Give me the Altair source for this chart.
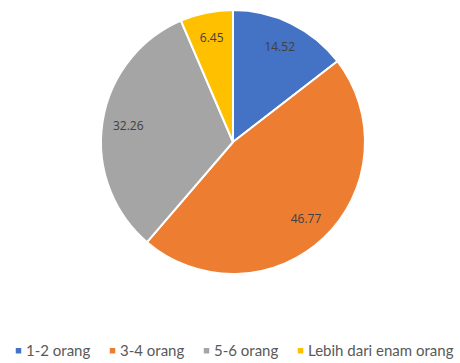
import altair as alt
import pandas as pd

categories = ["1-2 orang", "3-4 orang", "5-6 orang", "Lebih dari enam orang"]
values = [14.52, 46.77, 32.26, 6.45]
colors = ["#4472C4", "#ED7D31", "#A5A5A5", "#FFC000"]

df = pd.DataFrame({
    "kategori": categories,
    "nilai": values,
    "urut": list(range(len(categories))),
    "label": [f"{v:.2f}" for v in values],
})

cx, cy, R = 233, 142, 132

base = alt.Chart(df).encode(
    theta=alt.Theta("nilai:Q", stack=True),
    order=alt.Order("urut:Q", sort="ascending"),
    x=alt.value(cx),
    y=alt.value(cy),
)

arcs = base.mark_arc(outerRadius=R, stroke="white", strokeWidth=2).encode(
    color=alt.Color(
        "kategori:N",
        scale=alt.Scale(domain=categories, range=colors),
        sort=categories,
        legend=alt.Legend(
            title=None,
            orient="none",
            legendX=11,
            legendY=343,
            padding=0,
            direction="horizontal",
            symbolType="square",
            symbolSize=30,
            symbolStrokeWidth=0,
            labelFontSize=15,
            labelFont="Lato",
            labelColor="#595959",
            columnPadding=14,
            symbolOffset=0,
            labelOffset=0,
            labelLimit=300,
        ),
    )
)

texts = base.mark_text(radius=106, fontSize=12, font="Open Sans", color="#404040").encode(
    text="label:N"
)

chart = alt.layer(arcs, texts).properties(
    width=460,
    height=363,
    autosize=alt.AutoSizeParams(type="none"),
    padding=0,
    background="white",
).configure_view(stroke=None)

chart.save("out.html", embed_options={"renderer": "svg", "actions": False})
